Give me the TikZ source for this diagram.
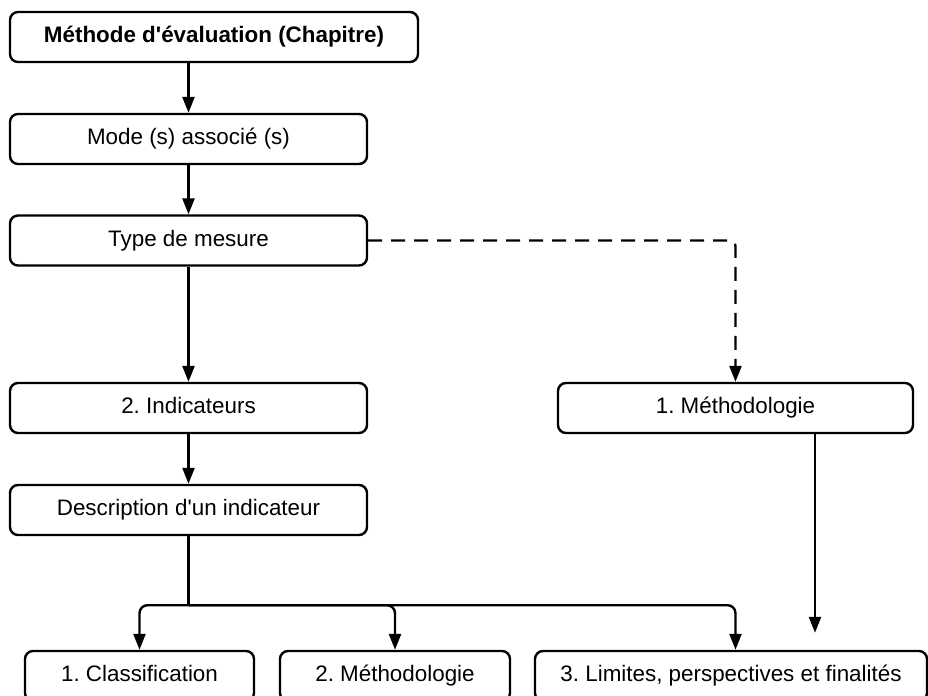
\documentclass[tikz,border=0pt]{standalone}
\usepackage{fontspec}
\setmainfont{Liberation Sans}
\frenchspacing
\usetikzlibrary{calc, arrows.meta, positioning}
\tikzset{
    boxnode/.style = {draw, rectangle, rounded corners=4pt, line width=1.2pt, inner sep = 0em,
      node distance=0em, minimum height=25pt, text height=8.2pt, text depth=2.6pt,
      font=\fontsize{11.2pt}{13pt}\selectfont},
    connect/.style = {black, line width=1.2pt, -{Triangle[length=8pt, width=6pt]}},
    dashconnect/.style = {connect, dash pattern=on 7pt off 4.5pt},
    every text node part/.style={align=center}
}

\begin{document}
\begin{tikzpicture}
    \useasboundingbox (0,0) rectangle (464pt,-348pt);

    \node [name=chap, boxnode, minimum width=204pt, font=\fontsize{11.2pt}{13pt}\selectfont\bfseries]
        at (107pt,-18.5pt) {Méthode d\textquotesingle évaluation (Chapitre)};

    \node [name=mode, boxnode, minimum width=178.5pt, 
        below of = chap, xshift=-12.75pt, yshift=-51pt] {Mode (s) associé (s)};
    \node [name=type, boxnode, minimum width=178.5pt, 
        below of = mode, yshift=-50.75pt] {Type de mesure};

    \node [name=ind, boxnode, minimum width=178.5pt, 
        below of = type, yshift=-83.75pt] {2. Indicateurs};
    \node [name=meth, boxnode, minimum width=177.5pt, 
        right of = ind, xshift=273.5pt] {1. Méthodologie};

    \node [name=desc, boxnode, minimum width=178.5pt, 
        below of = ind, yshift=-51pt] {Description d\textquotesingle un indicateur};

    \node [name=class, boxnode, minimum width=114.5pt, 
        below of = desc, xshift=-24.5pt, yshift=-83pt] {1. Classification};
    \node [name=meth2, boxnode, minimum width=115pt, 
        right of = class, xshift=127.75pt] {2. Méthodologie};
    \node [name=lim, boxnode, minimum width=196pt, 
        right of = meth2, xshift=168pt] {3. Limites, perspectives et finalités};

    \draw [connect] (mode.north |- chap.south) -- (mode.north); 
    \draw [connect] (mode) -- (type); 
    \draw [connect] (type) -- (ind); 
    \draw [dashconnect, rounded corners=3pt] (type.east) -| (meth.north); 
    \draw [connect] (ind) -- (desc); 

    % branches below the description
    \coordinate [yshift=-34.5pt] (split) at (desc.south);
    \coordinate (limin) at (meth.north |- lim.north);
    \draw [line width=1.2pt] (desc.south) -- (split);
    \draw [connect, rounded corners=4pt] (split) -| (class.north); 
    \draw [connect, rounded corners=4pt] (split) -| (meth2.north); 
    \draw [connect, rounded corners=4pt] (split) -| (limin); 

    \coordinate [xshift=39.75pt] (methout) at (meth.south);
    \coordinate [yshift=8.5pt] (methend) at (methout |- lim.north);
    \draw [connect] (methout) -- (methend);  
\end{tikzpicture}
\end{document}
